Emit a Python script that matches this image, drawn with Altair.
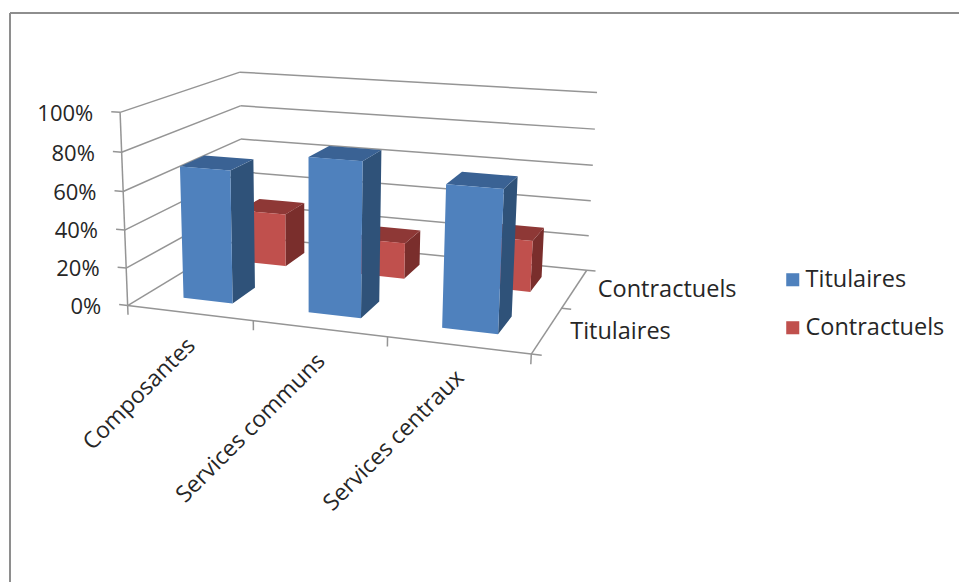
import altair as alt
import numpy as np
import pandas as pd

# Chart values
categories = ["Composantes", "Services communs", "Services centraux"]
series = ["Titulaires", "Contractuels"]
titulaires = [70, 80, 72]
contractuels = [30, 20, 28]
value_ticks = [0, 20, 40, 60, 80, 100]

FRONT = {"Titulaires": "#4F81BD", "Contractuels": "#C0504D"}
SIDE = {"Titulaires": "#2F5279", "Contractuels": "#7A2E2C"}
TOP = {"Titulaires": "#3A6294", "Contractuels": "#8E3836"}
GRID = "#959595"
TEXT = "#262626"
FONT = "Open Sans"

# Camera: a 3x4 projective matrix solved from where the box corners fall.
# World axes: category position, depth (0 front, 1 back), percent value.
box_world = [(0, 0, 0), (3, 0, 0), (0, 1, 0), (3, 1, 0), (0, 0, 100), (0, 1, 100), (3, 1, 100)]
box_view = [(128, 305), (531, 355), (242, 237), (587, 269), (120, 112), (240, 72), (597, 93)]


def solve_camera(world, view):
    rows = []
    for (a, b, c), (u, v) in zip(world, view):
        rows.append([a, b, c, 1, 0, 0, 0, 0, -u * a, -u * b, -u * c, -u])
        rows.append([0, 0, 0, 0, a, b, c, 1, -v * a, -v * b, -v * c, -v])
    return np.linalg.svd(np.array(rows, float))[2][-1].reshape(3, 4)


CAMERA = solve_camera(box_world, box_view)


def project(cat, depth, value):
    h = CAMERA @ np.array([cat, depth, value, 1.0])
    return float(h[0] / h[2]), float(h[1] / h[2])


def polygon_band(face_id, points, **extra):
    """Turn a convex polygon into upper/lower rows an area mark can fill."""
    pts = [tuple(p) for p in points]
    xs = sorted({p[0] for p in pts})
    rows = []
    for x in xs:
        hits = []
        for (x0, y0), (x1, y1) in zip(pts, pts[1:] + pts[:1]):
            if min(x0, x1) <= x <= max(x0, x1):
                if x0 == x1:
                    hits += [y0, y1]
                else:
                    hits.append(y0 + (y1 - y0) * (x - x0) / (x1 - x0))
        rows.append({"face": face_id, "sx": x, "sy": min(hits), "sy2": max(hits), **extra})
    return rows


def bar_faces(cat_index, series_index, value):
    c0, c1 = cat_index + 0.3, cat_index + 0.7
    d0, d1 = series_index * 0.5 + 0.15, series_index * 0.5 + 0.35
    front = [project(c0, d0, 0), project(c1, d0, 0), project(c1, d0, value), project(c0, d0, value)]
    side = [project(c1, d0, 0), project(c1, d1, 0), project(c1, d1, value), project(c1, d0, value)]
    top = [project(c0, d0, value), project(c1, d0, value), project(c1, d1, value), project(c0, d1, value)]
    return front, side, top


x_scale = alt.Scale(domain=[0, 959], range=[0, 959], nice=False, zero=False)
y_scale = alt.Scale(domain=[0, 582], range=[0, 582], nice=False, zero=False)
X = alt.X("sx:Q", scale=x_scale, axis=None)
Y = alt.Y("sy:Q", scale=y_scale, axis=None)
Y_BAND = alt.Y("sy:Q", scale=y_scale, axis=None, stack=None)
Y2 = alt.Y2("sy2:Q")

# Wall, floor and tick segments
segments = []


def add_segment(a, b):
    key = len(segments)
    for step, p in enumerate((a, b)):
        sx, sy = project(*p)
        segments.append({"seg": key, "sx": sx, "sy": sy, "step": step})


for v in value_ticks:
    add_segment((0, 0, v), (0, 1, v))
    add_segment((0, 1, v), (3, 1, v))
    add_segment((-0.07, 0, v), (0, 0, v))
add_segment((0, 0, 0), (0, 0, 100))
add_segment((0, 0, 0), (3, 0, 0))
add_segment((3, 0, 0), (3, 1, 0))
for c in range(4):
    add_segment((c, 0, 0), (c, 0, -5))
for d in (0, 0.5, 1):
    add_segment((3, d, 0), (3.07, d, 0))

grid_layer = (
    alt.Chart(pd.DataFrame(segments))
    .mark_line(color=GRID, strokeWidth=1.5)
    .encode(x=X, y=Y, detail="seg:N", order="step:O")
)

# Outer frame of the chart area, along the top and left edges
frame_left = (
    alt.Chart(pd.DataFrame([{"sx": 10, "sy": 13, "sy2": 582}]))
    .mark_rule(color="#8E8E8E", strokeWidth=2)
    .encode(x=X, y=Y, y2=Y2)
)
frame_top = (
    alt.Chart(pd.DataFrame([{"sx": 10, "sx2": 959, "sy": 13}]))
    .mark_rule(color="#8E8E8E", strokeWidth=2)
    .encode(x=X, x2=alt.X2("sx2:Q"), y=Y)
)

color_scale = alt.Scale(domain=series, range=[FRONT[s] for s in series])
legend = alt.Legend(
    title=None,
    orient="none",
    legendX=781,
    legendY=268,
    symbolType="square",
    symbolSize=170,
    symbolOpacity=1,
    symbolStrokeWidth=0,
    labelFont=FONT,
    labelFontSize=23.5,
    labelColor=TEXT,
    labelOffset=1,
    rowPadding=23,
    labelLimit=200,
)


def shade_layer(rows, colour):
    return (
        alt.Chart(pd.DataFrame(rows))
        .mark_area(orient="vertical", strokeWidth=0, fill=colour)
        .encode(x=X, y=Y_BAND, y2=Y2, detail="face:N")
    )


def row_layers(series_name, series_index, values):
    side_rows, top_rows, front_rows = [], [], []
    for i, value in enumerate(values):
        front, side, top = bar_faces(i, series_index, value)
        side_rows += polygon_band(f"{i}-side", side)
        top_rows += polygon_band(f"{i}-top", top)
        front_rows += polygon_band(f"{i}-front", front, series=series_name)
    fronts = (
        alt.Chart(pd.DataFrame(front_rows))
        .mark_area(orient="vertical", strokeWidth=0)
        .encode(x=X, y=Y_BAND, y2=Y2, detail="face:N",
                fill=alt.Fill("series:N", scale=color_scale, legend=legend))
    )
    return [shade_layer(side_rows, SIDE[series_name]), shade_layer(top_rows, TOP[series_name]), fronts]


def text_layer(rows, size, **mark):
    return (
        alt.Chart(pd.DataFrame(rows))
        .mark_text(font=FONT, fontSize=size, color=TEXT, **mark)
        .encode(x=X, y=Y, text="label:N")
    )


value_labels = [
    {"label": f"{v}%", "sx": project(-0.07, 0, v)[0], "sy": project(-0.07, 0, v)[1]} for v in value_ticks
]
cat_labels = [
    {"label": name, "sx": project(i + 0.5, 0, 0)[0], "sy": project(i + 0.5, 0, 0)[1]}
    for i, name in enumerate(categories)
]
depth_labels = [
    {"label": name, "sx": project(3, 0.25 + 0.5 * i, 0)[0], "sy": project(3, 0.25 + 0.5 * i, 0)[1]}
    for i, name in enumerate(series)
]

layers = [frame_left, frame_top, grid_layer]
layers += row_layers("Contractuels", 1, contractuels)
layers += row_layers("Titulaires", 0, titulaires)
layers += [
    text_layer(value_labels, 22, align="right", baseline="middle", dx=-18, dy=2),
    text_layer(cat_labels, 23, align="right", baseline="middle", angle=315, dx=-19, dy=22),
    text_layer(depth_labels, 23.5, align="left", baseline="middle", dx=23, dy=2),
]

chart = (
    alt.layer(*layers)
    .properties(width=959, height=582, padding=0, background="white", autosize=alt.AutoSizeParams(type="none"))
    .configure_view(stroke=None)
)

chart.save("out.html", embed_options={"renderer": "svg", "actions": False})
